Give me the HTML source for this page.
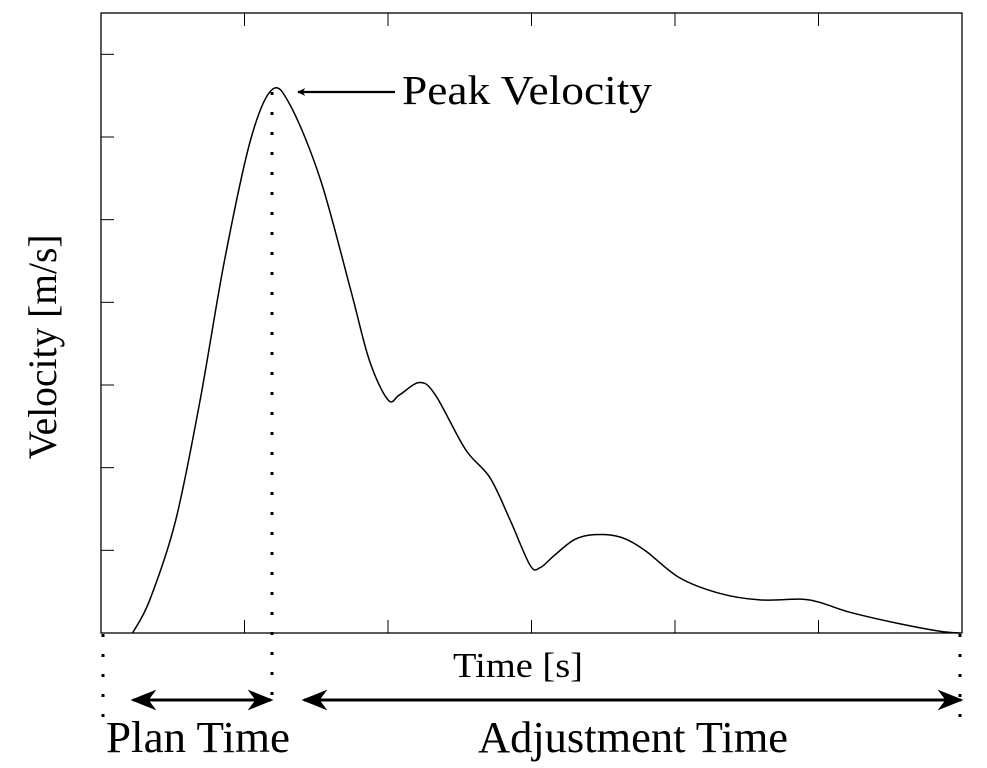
<!DOCTYPE html>
<html><head><meta charset="utf-8"><style>
html,body{margin:0;padding:0;background:#fff;}
svg{display:block;font-family:"Liberation Serif",serif;}
</style></head><body>
<svg id="chart" width="987" height="768" viewBox="0 0 987 768">
<defs>
<marker id="ah" viewBox="0 0 10 10" refX="9" refY="5" markerWidth="8" markerHeight="8" orient="auto-start-reverse" markerUnits="userSpaceOnUse"><path d="M0,0 L10,5 L0,10 L3,5 Z" fill="#000"/></marker>
<marker id="ah2" viewBox="0 0 10 10" refX="9" refY="5" markerWidth="26" markerHeight="26" orient="auto-start-reverse" markerUnits="userSpaceOnUse"><path d="M0,1 L10,5 L0,9 L3,5 Z" fill="#000"/></marker>
</defs>
<rect x="101" y="13" width="861" height="620" fill="none" stroke="#000" stroke-width="1.3"/>
<g id="ticks"></g>
<path id="curve" fill="none" stroke="#000" stroke-width="1.5"/>
<g stroke="#000" stroke-width="3" stroke-dasharray="3 17" stroke-linecap="butt">
<line x1="103" y1="634" x2="103" y2="722"/>
<line x1="272" y1="92" x2="272" y2="712"/>
<line x1="960" y1="634" x2="960" y2="725"/>
</g>
<line x1="395" y1="92" x2="298" y2="92" stroke="#000" stroke-width="2.2" marker-end="url(#ah)"/>
<text x="402" y="104" font-size="41" textLength="250" lengthAdjust="spacingAndGlyphs">Peak Velocity</text>
<text transform="translate(56,347) rotate(-90)" text-anchor="middle" font-size="40" textLength="225" lengthAdjust="spacingAndGlyphs">Velocity [m/s]</text>
<text x="518" y="677" text-anchor="middle" font-size="35" textLength="130" lengthAdjust="spacingAndGlyphs">Time [s]</text>
<line x1="133" y1="700" x2="271" y2="700" stroke="#000" stroke-width="3" marker-start="url(#ah2)" marker-end="url(#ah2)"/>
<line x1="304" y1="700" x2="961" y2="700" stroke="#000" stroke-width="3" marker-start="url(#ah2)" marker-end="url(#ah2)"/>
<text x="106" y="752" font-size="44" textLength="184" lengthAdjust="spacingAndGlyphs">Plan Time</text>
<text x="478" y="752" font-size="44" textLength="310" lengthAdjust="spacingAndGlyphs">Adjustment Time</text>
</svg>
<script>
const timeValues=[0.22,0.34,0.52,0.69,0.86,1.04,1.19,1.32,1.53,1.74,1.87,2.00,2.08,2.22,2.33,2.54,2.71,2.85,2.99,3.06,3.16,3.30,3.44,3.62,3.79,4.03,4.31,4.59,4.87,5.01,5.22,5.57,5.85,5.99];
const velocityValues=[0,0.40,1.36,2.81,4.50,5.95,6.57,6.38,5.48,4.15,3.30,2.82,2.88,3.03,2.88,2.22,1.88,1.37,0.82,0.79,0.94,1.13,1.19,1.16,1.00,0.67,0.48,0.40,0.41,0.37,0.25,0.11,0.02,0];
const xTicks=[0,1,2,3,4,5,6];
const yTicks=[1,2,3,4,5,6,7];
const X0=101,X1=962,Y0=633,Y1=13,XMAX=6,YMAX=7.5;
function sx(v){return X0+v/XMAX*(X1-X0);}
function sy(v){return Y0-v/YMAX*(Y0-Y1);}
const NS="http://www.w3.org/2000/svg";
const tg=document.getElementById('ticks');
xTicks.forEach(t=>{
  [[Y0,Y0-13],[Y1,Y1+13]].forEach(p=>{
    const l=document.createElementNS(NS,'line');
    
    
    l.setAttribute('x1',sx(t));l.setAttribute('x2',sx(t));
    l.setAttribute('y1',p[0]);l.setAttribute('y2',p[1]);
    l.setAttribute('stroke','#000');l.setAttribute('stroke-width','1');
    tg.appendChild(l);
  });
});
yTicks.forEach(t=>{
  const l=document.createElementNS(NS,'line');
  
  
  l.setAttribute('x1',X0);l.setAttribute('x2',X0+13);
  l.setAttribute('y1',sy(t));l.setAttribute('y2',sy(t));
  l.setAttribute('stroke','#000');l.setAttribute('stroke-width','1');
  tg.appendChild(l);
});
const pts=timeValues.map((t,i)=>[sx(t),sy(velocityValues[i])]);
let d='M'+pts[0][0]+','+pts[0][1];
for(let i=0;i<pts.length-1;i++){
  const p0=pts[Math.max(0,i-1)],p1=pts[i],p2=pts[i+1],p3=pts[Math.min(pts.length-1,i+2)];
  const c1=[p1[0]+(p2[0]-p0[0])/6,p1[1]+(p2[1]-p0[1])/6];
  const c2=[p2[0]-(p3[0]-p1[0])/6,p2[1]-(p3[1]-p1[1])/6];
  d+=' C'+c1[0]+','+c1[1]+' '+c2[0]+','+c2[1]+' '+p2[0]+','+p2[1];
}
document.getElementById('curve').setAttribute('d',d);
</script>
</body></html>
